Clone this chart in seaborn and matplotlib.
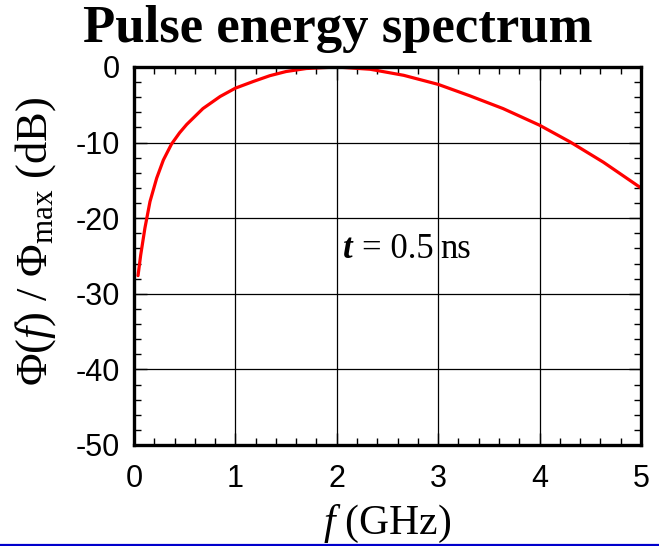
import matplotlib
matplotlib.use("Agg")
import matplotlib.pyplot as plt
from matplotlib.lines import Line2D
from matplotlib.ticker import MultipleLocator
import seaborn as sns
import pandas as pd

# Normalised pulse energy spectrum, tau = 0.5 ns
freq_ghz = [0.04, 0.066, 0.108, 0.158, 0.224, 0.29, 0.37, 0.45, 0.52, 0.68, 0.85,
            1.0, 1.18, 1.34, 1.5, 1.7, 2.0, 2.33, 2.66, 3.0, 3.31,
            3.64, 4.0, 4.3, 4.63, 5.0]
level_db = [-27.6, -24.9, -21.3, -17.8, -14.7, -12.3, -10.2, -8.7, -7.6, -5.5, -3.9,
            -2.8, -1.9, -1.15, -0.6, -0.2, 0.0, -0.3, -1.1, -2.3, -3.8,
            -5.5, -7.7, -9.9, -12.6, -16.0]
x_ticks = [0, 1, 2, 3, 4, 5]
y_ticks = [0, -10, -20, -30, -40, -50]

df = pd.DataFrame({"f": freq_ghz, "dB": level_db})

sns.set_style("ticks")
plt.rcParams["font.family"] = ["Liberation Serif", "DejaVu Serif"]
plt.rcParams["text.color"] = "black"
plt.rcParams["axes.labelcolor"] = "black"
plt.rcParams["xtick.color"] = "black"
plt.rcParams["ytick.color"] = "black"
plt.rcParams["mathtext.fontset"] = "custom"
plt.rcParams["mathtext.rm"] = "Liberation Serif"
plt.rcParams["mathtext.it"] = "Liberation Serif:italic"
plt.rcParams["mathtext.bf"] = "Liberation Serif:bold"

fig = plt.figure(figsize=(6.59, 5.46), dpi=100)
ax = fig.add_axes([0.2033, 0.185, 0.7693, 0.6923])

sns.lineplot(data=df, x="f", y="dB", ax=ax, color="#ff0000", linewidth=2.3,
             estimator=None, sort=False)

ax.set_xlim(0, 5)
ax.set_ylim(-50, 0)
ax.set_xticks(x_ticks)
ax.set_yticks(y_ticks)
ax.xaxis.set_minor_locator(MultipleLocator(0.2))
ax.yaxis.set_minor_locator(MultipleLocator(2))
ax.grid(True, which="major", color="black", linewidth=0.9)
ax.set_axisbelow(True)

ax.tick_params(which="both", direction="in", top=True, right=True,
               color="black", width=1.0)
ax.tick_params(axis="x", which="major", pad=14)
ax.tick_params(axis="y", which="major", pad=10)
ax.tick_params(which="major", length=9)
ax.tick_params(which="minor", length=5)
for sp in ax.spines.values():
    sp.set_linewidth(2.4)
    sp.set_color("black")

ax.set_xticklabels([str(v) for v in x_ticks])
ax.set_yticklabels([str(v) for v in y_ticks])
for lab in ax.get_xticklabels() + ax.get_yticklabels():
    lab.set_fontfamily("Liberation Sans")
    lab.set_fontsize(22)
    lab.set_color("black")

ax.set_xlabel(r"$f$ (GHz)", fontsize=30, labelpad=6)
ax.set_ylabel(r"$\Phi(f)$ / $\Phi_{\mathrm{max}}$ (dB)", fontsize=32)
ax.yaxis.set_label_coords(-0.15, 0.54)
fig.suptitle("Pulse energy spectrum", fontsize=38, fontweight="bold",
             x=0.513, y=0.99, va="top", color="black")

ax.text(2.06, -25.3, "t", fontsize=25, fontweight="bold", fontstyle="italic",
        ha="left", va="baseline")
ax.text(2.25, -25.3, "= 0.5", fontsize=25, ha="left", va="baseline")
ax.text(3.02, -25.3, "ns", fontsize=25, ha="left", va="baseline")

# thin rule along the bottom edge of the figure
fig.add_artist(Line2D([0, 1], [0.0027, 0.0027], transform=fig.transFigure,
                      color="#0000cc", linewidth=1.6))

fig.savefig("out.png", dpi=100)
